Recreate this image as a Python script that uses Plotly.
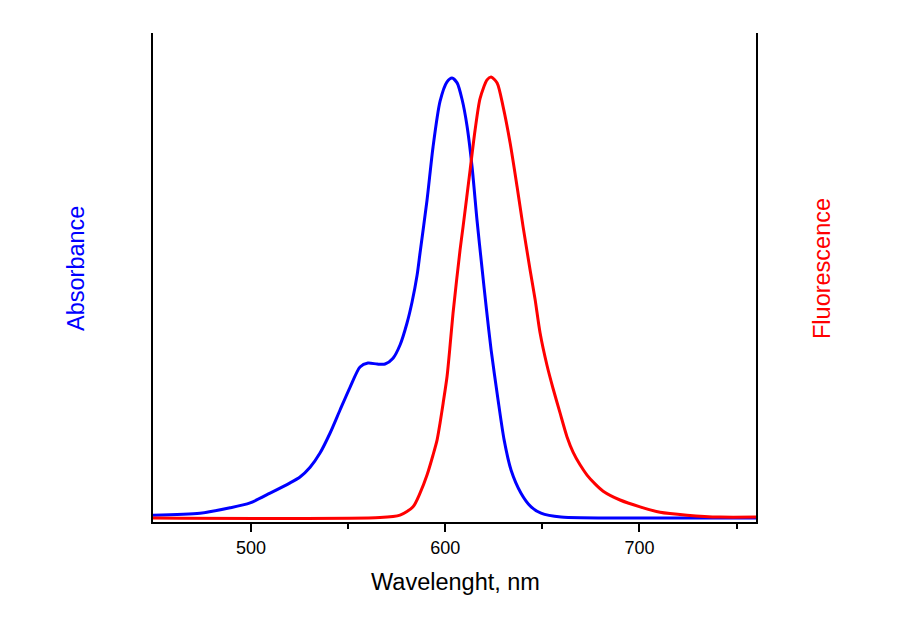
import plotly.graph_objects as go

# Absorbance (blue) spectrum
abs_wl = [449.5, 473.7, 489.2, 499.5, 509.8, 520.1, 525.2, 530.4, 535.5, 540.7, 545.8, 551.0,
          556.1, 560.2, 564.9, 569.0, 573.1, 576.7, 580.3, 582.9, 585.5, 587.0, 590.6, 593.7,
          597.3, 600.9, 603.5, 606.1, 608.6, 611.2, 613.8, 616.4, 618.9, 621.2, 623.6, 627.2,
          630.3, 633.9, 639.0, 644.2, 649.3, 659.6, 700.8, 760.0]
abs_val = [0.014, 0.018, 0.029, 0.039, 0.059, 0.080, 0.092, 0.112, 0.141, 0.182, 0.229, 0.276,
           0.317, 0.325, 0.323, 0.323, 0.335, 0.362, 0.407, 0.450, 0.505, 0.550, 0.658, 0.767,
           0.860, 0.900, 0.908, 0.898, 0.865, 0.810, 0.726, 0.615, 0.520, 0.435, 0.352, 0.249,
           0.168, 0.106, 0.059, 0.031, 0.018, 0.010, 0.008, 0.008]

# Fluorescence (red) spectrum
fl_wl = [449.5, 566.4, 576.7, 583.4, 587.0, 590.6, 593.7, 595.8, 597.3, 598.9, 600.9, 602.5,
         604.0, 607.6, 609.2, 612.8, 615.3, 617.9, 621.5, 623.6, 626.7, 629.8, 633.4, 637.0,
         640.1, 643.7, 646.3, 648.8, 652.4, 655.5, 659.1, 662.7, 665.8, 669.4, 673.0, 677.1,
         681.3, 690.0, 700.3, 710.6, 724.5, 741.5, 760.0]
fl_val = [0.008, 0.009, 0.014, 0.031, 0.059, 0.096, 0.137, 0.168, 0.202, 0.243, 0.297, 0.362,
          0.427, 0.556, 0.605, 0.720, 0.800, 0.866, 0.904, 0.910, 0.898, 0.849, 0.775, 0.685,
          0.603, 0.515, 0.454, 0.387, 0.320, 0.273, 0.223, 0.174, 0.143, 0.117, 0.096, 0.078,
          0.063, 0.045, 0.031, 0.020, 0.014, 0.010, 0.010]

x_ticks = [500, 600, 700]
x_tick_labels = ["500", "600", "700"]
x_minor = [550, 650, 750]

W, H = 900, 620
L, R, T, B = 153, 144, 33, 98
PW, PH = W - L - R, H - T - B


def px(x):
    return (x - L) / PW


def py(y):
    return (H - B - y) / PH


fig = go.Figure()
fig.add_trace(go.Scatter(x=abs_wl, y=abs_val, mode="lines",
                         line=dict(color="#0000ff", width=3, shape="spline", smoothing=0.7),
                         showlegend=False, hoverinfo="skip"))
fig.add_trace(go.Scatter(x=fl_wl, y=fl_val, mode="lines",
                         line=dict(color="#ff0000", width=3, shape="spline", smoothing=0.7),
                         showlegend=False, hoverinfo="skip"))

fig.update_layout(
    width=W, height=H,
    margin=dict(l=L, r=R, t=T, b=B),
    paper_bgcolor="white", plot_bgcolor="white",
    font=dict(family="Liberation Sans, Arial, sans-serif", color="black"),
    xaxis=dict(range=[449.5, 760], showline=True, linecolor="black", linewidth=2,
               showgrid=False, zeroline=False, ticks="outside", ticklen=8, tickwidth=2,
               tickcolor="black", tickvals=x_ticks, ticktext=x_tick_labels,
               tickfont=dict(size=18, color="black"),
               minor=dict(tickvals=x_minor, ticks="outside", ticklen=5, tickwidth=2,
                          tickcolor="black", showgrid=False),
               mirror=False),
    yaxis=dict(range=[0, 1], showline=True, linecolor="black", linewidth=2, mirror=True,
               showgrid=False, zeroline=False, showticklabels=False, ticks=""),
    annotations=[
        dict(text="Wavelenght, nm", x=px(455), y=py(582), xref="paper", yref="paper",
             xanchor="center", yanchor="middle", showarrow=False,
             font=dict(size=23.5, color="black")),
        dict(text="Absorbance", x=px(76), y=py(269), xref="paper", yref="paper",
             xanchor="center", yanchor="middle", showarrow=False, textangle=-90,
             font=dict(size=23.5, color="#0000ff")),
        dict(text="Fluorescence", x=px(822), y=py(269), xref="paper", yref="paper",
             xanchor="center", yanchor="middle", showarrow=False, textangle=-90,
             font=dict(size=23.5, color="#ff0000")),
    ],
)

fig.write_html("out.html", config={"displayModeBar": False},
               post_script="document.body.style.margin='0';document.body.style.overflow='hidden';")
